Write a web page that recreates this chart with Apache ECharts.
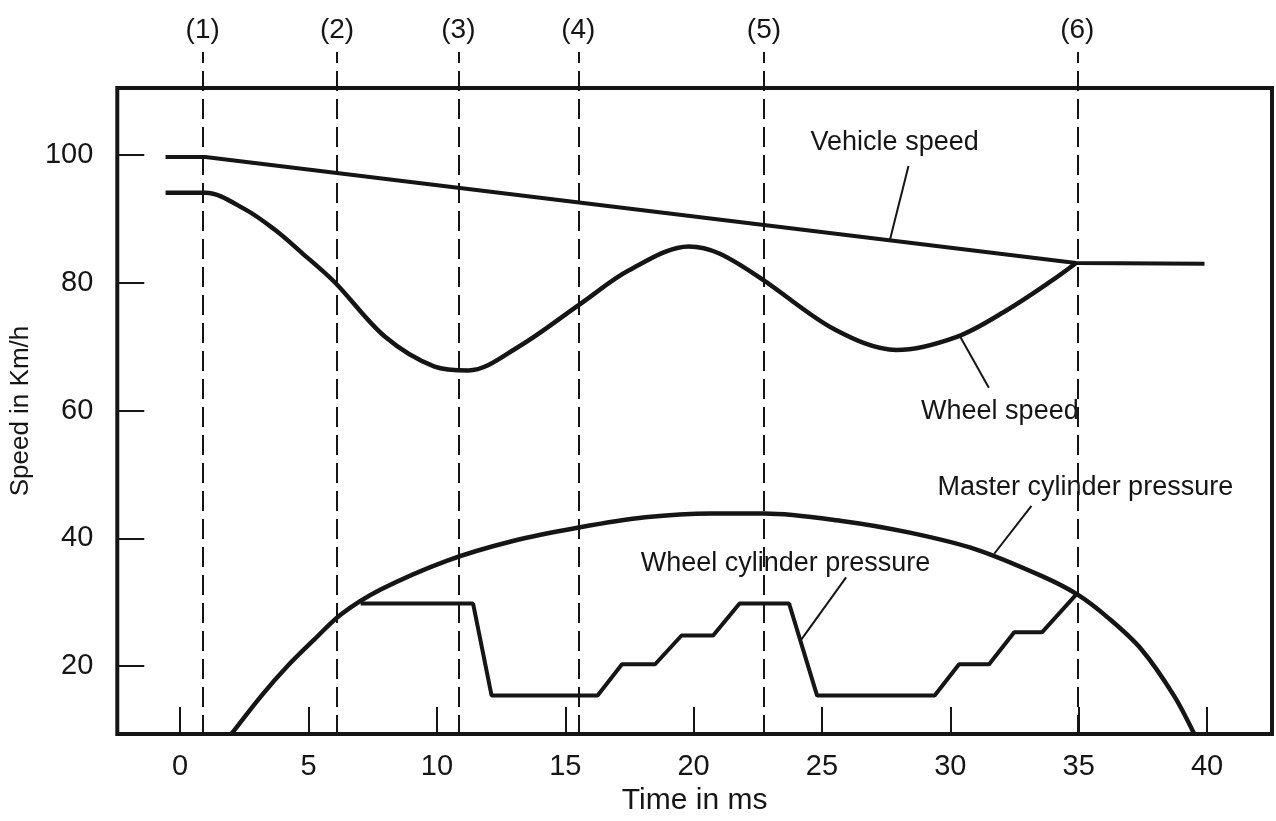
<!DOCTYPE html>
<html>
<head>
<meta charset="utf-8">
<script src="https://cdn.jsdelivr.net/npm/echarts@6/dist/echarts.min.js"></script>
<style>
  html, body { margin: 0; padding: 0; background: #fff; }
  #main { width: 1276px; height: 821px; }
</style>
</head>
<body>
<div id="main"></div>
<script>
// time in ms, speed in km/h (pressures drawn on the same scale)
var vehicleSpeed = [[-0.57, 99.7], [0.98, 99.7], [34.9, 83.1], [39.9, 83.0]];

var wheelSpeed = [
    [-0.57, 94.1], [0.98, 94.1], [2.53, 91.5], [3.69, 88.3], [4.74, 84.7],
    [6.02, 80.1], [7.97, 71.6], [9.91, 66.9], [11.23, 66.3], [13.18, 70.0],
    [15.55, 76.6], [17.5, 82.0], [19.82, 85.7], [21.0, 84.6], [22.66, 80.6],
    [25.5, 72.7], [27.9, 69.5], [30.28, 71.6], [32.23, 75.8], [34.01, 80.5],
    [34.9, 83.1]
];

var masterPressure = [
    [2.0, 9.4], [3.17, 15.4], [4.2, 20.1], [5.23, 24.2], [6.26, 28.1],
    [7.81, 32.0], [10.38, 36.5], [12.96, 39.6], [15.53, 41.7], [18.11, 43.3],
    [20.69, 43.9], [22.75, 43.9], [25.84, 42.7], [28.42, 40.9], [30.99, 38.3],
    [33.57, 34.1], [34.96, 31.2], [36.14, 27.6], [37.43, 22.7], [38.71, 15.4],
    [39.5, 9.4]
];

var wheelPressure = [
    [7.03, 29.8], [11.41, 29.8], [12.13, 15.4], [16.26, 15.4], [17.21, 20.3],
    [18.5, 20.3], [19.53, 24.8], [20.76, 24.8], [21.79, 29.8], [23.72, 29.8],
    [24.81, 15.4], [29.39, 15.4], [30.34, 20.3], [31.51, 20.3], [32.49, 25.3],
    [33.57, 25.3], [34.9, 31.2]
];

var eventTimes = [0.96, 6.18, 10.9, 15.56, 22.78, 34.96];
var eventLabels = ['(1)', '(2)', '(3)', '(4)', '(5)', '(6)'];

var xTicks = [0, 5, 10, 15, 20, 25, 30, 35, 40];
var yTicks = [20, 40, 60, 80, 100];

// callout texts and their leader lines (data units)
var calloutNames = ['Vehicle speed', 'Wheel speed', 'Master cylinder pressure', 'Wheel cylinder pressure'];
var calloutAt = [[27.83, 102.0], [31.93, 59.9], [35.26, 47.9], [23.58, 36.1]];
var leaderFrom = [[28.37, 98.3], [31.5, 63.6], [33.16, 45.1], [25.94, 33.9]];
var leaderTo = [[27.65, 86.8], [30.38, 71.6], [31.71, 37.6], [24.2, 24.2]];

var ink = '#151515';
var font = 'Liberation Sans, Arial, sans-serif';

var myChart = echarts.init(document.getElementById('main'));

myChart.setOption({
    animation: false,
    backgroundColor: '#fff',
    textStyle: { fontFamily: font, color: ink },
    grid: [
        { left: 115, right: 4, top: 88, bottom: 86, show: true, borderColor: ink, borderWidth: 4 },
        { left: 115, right: 4, top: 52, bottom: 86 }
    ],
    xAxis: [
        {
            type: 'value',
            gridIndex: 0,
            min: -2.45,
            max: 42.53,
            splitLine: { show: false },
            axisLine: { show: false, onZero: false },
            axisTick: {
                show: true,
                inside: true,
                length: 27,
                customValues: xTicks,
                lineStyle: { color: ink, width: 2 }
            },
            axisLabel: {
                customValues: xTicks,
                fontSize: 29,
                color: ink,
                margin: 18,
                fontFamily: font
            },
            name: 'Time in ms',
            nameLocation: 'middle',
            nameGap: 45,
            nameTextStyle: { fontSize: 30, color: ink, fontFamily: font }
        },
        { type: 'value', gridIndex: 1, min: -2.45, max: 42.53, show: false }
    ],
    yAxis: [
        {
            type: 'value',
            gridIndex: 0,
            min: 9.37,
            max: 110.5,
            splitLine: { show: false },
            axisLine: { show: false, onZero: false },
            axisTick: {
                show: true,
                inside: true,
                length: 27,
                customValues: yTicks,
                lineStyle: { color: ink, width: 2 }
            },
            axisLabel: {
                customValues: yTicks,
                fontSize: 29,
                color: ink,
                margin: 24,
                fontFamily: font
            },
            name: 'Speed in Km/h',
            nameLocation: 'middle',
            nameGap: 82,
            nameTextStyle: { fontSize: 26, color: ink, fontFamily: font }
        },
        { type: 'value', gridIndex: 1, min: 0, max: 1, show: false }
    ],
    series: [
        {
            name: 'events',
            type: 'line',
            xAxisIndex: 1,
            yAxisIndex: 1,
            data: [],
            silent: true,
            markLine: {
                silent: true,
                symbol: ['none', 'none'],
                lineStyle: { color: ink, width: 2, type: [20, 8] },
                label: {
                    show: true,
                    position: 'end',
                    distance: 8,
                    fontSize: 28,
                    color: ink,
                    fontFamily: font,
                    formatter: function (p) { return p.name; }
                },
                data: eventTimes.map(function (t, i) {
                    return { xAxis: t, name: eventLabels[i] };
                })
            }
        },
        {
            name: 'Vehicle speed',
            type: 'line',
            data: vehicleSpeed,
            showSymbol: false,
            lineStyle: { color: ink, width: 4 }
        },
        {
            name: 'Wheel speed',
            type: 'line',
            data: wheelSpeed,
            smooth: 0.33,
            showSymbol: false,
            lineStyle: { color: ink, width: 4.5 }
        },
        {
            name: 'Master cylinder pressure',
            type: 'line',
            data: masterPressure,
            smooth: 0.33,
            showSymbol: false,
            lineStyle: { color: ink, width: 4.5 }
        },
        {
            name: 'Wheel cylinder pressure',
            type: 'line',
            data: wheelPressure,
            showSymbol: false,
            lineStyle: { color: ink, width: 4 }
        },
        {
            name: 'callouts',
            type: 'scatter',
            symbolSize: 0,
            silent: true,
            itemStyle: { opacity: 1 },
            data: calloutNames.map(function (n, i) {
                return { name: n, value: calloutAt[i] };
            }),
            label: {
                show: true,
                position: 'inside',
                fontSize: 27,
                color: ink,
                opacity: 1,
                fontFamily: font,
                formatter: function (p) { return p.name; }
            },
            markLine: {
                silent: true,
                symbol: ['none', 'none'],
                label: { show: false },
                lineStyle: { color: ink, width: 2, type: 'solid', opacity: 1 },
                data: leaderFrom.map(function (a, i) {
                    return [{ coord: a }, { coord: leaderTo[i] }];
                })
            }
        }
    ]
});
</script>
</body>
</html>
